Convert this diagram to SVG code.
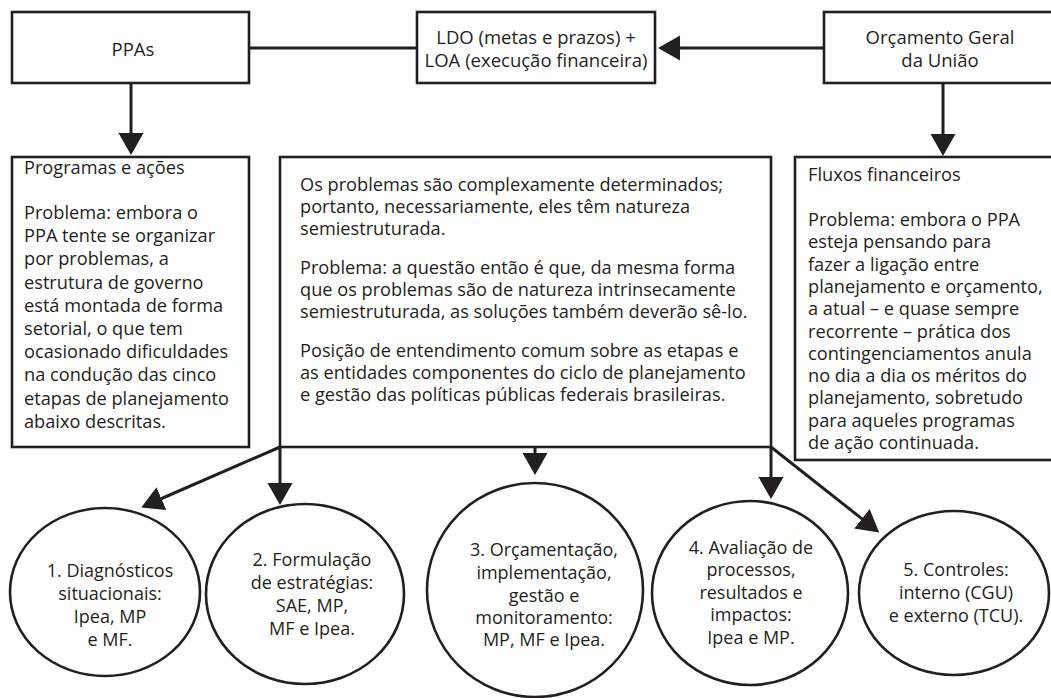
<svg xmlns="http://www.w3.org/2000/svg" width="1051" height="698" viewBox="0 0 1051 698">
<defs>
<style>
.box{fill:#fff;stroke:#231f20;stroke-width:2.6}
.ell{fill:#fff;stroke:#231f20;stroke-width:2.6}
.con{fill:none;stroke:#231f20;stroke-width:3}
text{font-family:"Open Sans","Noto Sans","Liberation Sans",sans-serif;font-size:18.2px;fill:#231f20}
.t{font-size:18.5px}
.e{font-size:18px}
.c{text-anchor:middle}
</style>
<marker id="ah" markerUnits="userSpaceOnUse" markerWidth="24" markerHeight="26" refX="1" refY="12.5" orient="auto">
<path d="M0,0 L22,12.5 L0,25 z" fill="#231f20"/>
</marker>
</defs>
<rect width="1051" height="698" fill="#fff"/>

<g id="connectors">
<line class="con" x1="249" y1="48" x2="417" y2="48"/>
<line class="con" x1="824" y1="48" x2="679" y2="48" marker-end="url(#ah)"/>
<line class="con" x1="131" y1="83" x2="131" y2="134" marker-end="url(#ah)"/>
<line class="con" x1="943" y1="83" x2="943" y2="135" marker-end="url(#ah)"/>
<line class="con" x1="280" y1="447" x2="160.5" y2="499" marker-end="url(#ah)"/>
<line class="con" x1="280" y1="447" x2="280" y2="484" marker-end="url(#ah)"/>
<line class="con" x1="535" y1="447" x2="535" y2="454" marker-end="url(#ah)"/>
<line class="con" x1="771" y1="447" x2="771" y2="478" marker-end="url(#ah)"/>
<line class="con" x1="771" y1="447" x2="862.7" y2="519.4" marker-end="url(#ah)"/>
</g>

<g id="ppas">
<rect class="box" x="12" y="12" width="237" height="71"/>
<text class="c t" x="133" y="56">PPAs</text>
</g>

<g id="ldo-loa">
<rect class="box" x="417" y="12" width="238" height="71"/>
<text class="c t" x="536" y="44">LDO (metas e prazos) +</text>
<text class="c t" x="536" y="67">LOA (execução financeira)</text>
</g>

<g id="orcamento">
<rect class="box" x="824" y="12" width="230" height="71"/>
<text class="c t" x="940" y="44">Orçamento Geral</text>
<text class="c t" x="940" y="67">da União</text>
</g>

<g id="programas">
<rect class="box" x="12" y="157" width="237" height="290"/>
<text x="24" y="174">Programas e ações</text>
<text x="24" y="219">Problema: embora o</text>
<text x="24" y="242.2">PPA tente se organizar</text>
<text x="24" y="265.4">por problemas, a</text>
<text x="24" y="288.6">estrutura de governo</text>
<text x="24" y="311.8">está montada de forma</text>
<text x="24" y="335">setorial, o que tem</text>
<text x="24" y="358.2">ocasionado dificuldades</text>
<text x="24" y="381.4">na condução das cinco</text>
<text x="24" y="404.6">etapas de planejamento</text>
<text x="24" y="427.8">abaixo descritas.</text>
</g>

<g id="problemas">
<rect class="box" x="280" y="157" width="491" height="290"/>
<text x="300" y="191">Os problemas são complexamente determinados;</text>
<text x="300" y="213">portanto, necessariamente, eles têm natureza</text>
<text x="300" y="235">semiestruturada.</text>
<text x="300" y="274">Problema: a questão então é que, da mesma forma</text>
<text x="300" y="296">que os problemas são de natureza intrinsecamente</text>
<text x="300" y="318">semiestruturada, as soluções também deverão sê-lo.</text>
<text x="300" y="357">Posição de entendimento comum sobre as etapas e</text>
<text x="300" y="379">as entidades componentes do ciclo de planejamento</text>
<text x="300" y="401">e gestão das políticas públicas federais brasileiras.</text>
</g>

<g id="fluxos">
<rect class="box" x="795" y="157" width="260" height="303"/>
<text x="808" y="181">Fluxos financeiros</text>
<text x="808" y="226">Problema: embora o PPA</text>
<text x="808" y="248.3">esteja pensando para</text>
<text x="808" y="270.6">fazer a ligação entre</text>
<text x="808" y="292.9">planejamento e orçamento,</text>
<text x="808" y="315.2">a atual – e quase sempre</text>
<text x="808" y="337.5">recorrente –  prática dos</text>
<text x="808" y="359.8">contingenciamentos anula</text>
<text x="808" y="382.1">no dia a dia os méritos do</text>
<text x="808" y="404.4">planejamento, sobretudo</text>
<text x="808" y="426.7">para aqueles programas</text>
<text x="808" y="449">de ação continuada.</text>
</g>

<g id="etapa1">
<ellipse class="ell" cx="105" cy="592" rx="95" ry="84"/>
<text class="c e" x="110" y="577">1. Diagnósticos</text>
<text class="c e" x="110" y="600">situacionais:</text>
<text class="c e" x="110" y="623">Ipea, MP</text>
<text class="c e" x="110" y="646">e MF.</text>
</g>

<g id="etapa2">
<ellipse class="ell" cx="305" cy="594" rx="99" ry="90"/>
<text class="c e" x="312" y="566">2. Formulação</text>
<text class="c e" x="312" y="589">de estratégias:</text>
<text class="c e" x="312" y="612">SAE, MP,</text>
<text class="c e" x="312" y="635">MF e Ipea.</text>
</g>

<g id="etapa3">
<ellipse class="ell" cx="535" cy="590" rx="108" ry="107"/>
<text class="c e" x="544" y="556">3. Orçamentação,</text>
<text class="c e" x="544" y="579">implementação,</text>
<text class="c e" x="544" y="602">gestão e</text>
<text class="c e" x="544" y="624">monitoramento:</text>
<text class="c e" x="544" y="646">MP, MF e Ipea.</text>
</g>

<g id="etapa4">
<ellipse class="ell" cx="750" cy="593" rx="98" ry="92"/>
<text class="c e" x="751" y="554">4. Avaliação de</text>
<text class="c e" x="751" y="576">processos,</text>
<text class="c e" x="751" y="599">resultados e</text>
<text class="c e" x="751" y="621">impactos:</text>
<text class="c e" x="751" y="644">Ipea e MP.</text>
</g>

<g id="etapa5">
<ellipse class="ell" cx="954" cy="593" rx="95" ry="82"/>
<text class="c e" x="956" y="576">5. Controles:</text>
<text class="c e" x="956" y="599">interno (CGU)</text>
<text class="c e" x="956" y="622">e externo (TCU).</text>
</g>
</svg>
